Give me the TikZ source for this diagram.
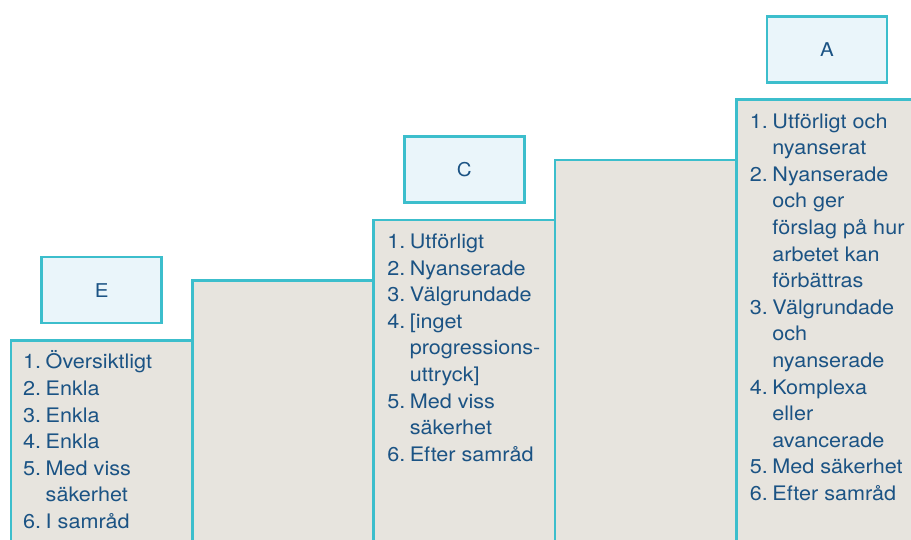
\documentclass[tikz,border=0pt]{standalone}
\usepackage{fontspec}
\setmainfont{TeX Gyre Heros}[FakeStretch=1.08]
\usetikzlibrary{positioning}

\definecolor{stepline}{HTML}{3CBECC}
\definecolor{stepfill}{HTML}{E7E4DE}
\definecolor{gradefill}{HTML}{EAF5FA}
\definecolor{listblue}{HTML}{1B5384}

\tikzset{
  stepcol/.style={draw=stepline, fill=stepfill, line width=2.6pt, anchor=north west,
    minimum width=181.3pt, minimum height=500pt, inner sep=0pt, outer sep=0pt},
  gradebox/.style={draw=stepline, fill=gradefill, line width=2.6pt, text=listblue,
    minimum width=120pt, minimum height=66pt, font=\fontsize{19}{22}\selectfont},
  critlist/.style={anchor=base west, inner sep=0pt, text=listblue,
    font=\fontsize{20}{26.6}\selectfont},
}

\begin{document}
\begin{tikzpicture}[x=1pt, y=1pt]
    \useasboundingbox (0,0) rectangle (911,540);
    \clip (0,0) rectangle (911,540);

    % trappstegen
    \node[stepcol] (colE) at (11,199.5) {};
    \node[stepcol] (colD) at (192.3,259.7) {};
    \node[stepcol] (colC) at (373.6,319.9) {};
    \node[stepcol] (colB) at (554.9,380.1) {};
    \node[stepcol] (colA) at (736.2,440.3) {};

    % betygen
    \node[gradebox, above=16pt of colE] (gradeE) {E};
    \node[gradebox, above=16pt of colC] (gradeC) {C};
    \node[gradebox, above=16pt of colA] (gradeA) {A};

    % uttrycken
    \node[critlist] (listE) at ([xshift=12pt, yshift=-28.5pt]colE.north west) {%
      \begin{tabular}[t]{@{}l@{\hspace{4.5pt}}l@{}}
        1. & Översiktligt\\
        2. & Enkla\\
        3. & Enkla\\
        4. & Enkla\\
        5. & Med viss\\
           & säkerhet\\
        6. & I samråd
      \end{tabular}};
    \node[critlist] (listC) at ([xshift=13.5pt, yshift=-28.5pt]colC.north west) {%
      \begin{tabular}[t]{@{}l@{\hspace{4.5pt}}l@{}}
        1. & Utförligt\\
        2. & Nyanserade\\
        3. & Välgrundade\\
        4. & [inget\\
           & progressions-\\
           & uttryck]\\
        5. & Med viss\\
           & säkerhet\\
        6. & Efter samråd
      \end{tabular}};
    \node[critlist] (listA) at ([xshift=13.5pt, yshift=-28.5pt]colA.north west) {%
      \begin{tabular}[t]{@{}l@{\hspace{4.5pt}}l@{}}
        1. & Utförligt och\\
           & nyanserat\\
        2. & Nyanserade\\
           & och ger\\
           & förslag på hur\\
           & arbetet kan\\
           & förbättras\\
        3. & Välgrundade\\
           & och\\
           & nyanserade\\
        4. & Komplexa\\
           & eller\\
           & avancerade\\
        5. & Med säkerhet\\
        6. & Efter samråd
      \end{tabular}};
\end{tikzpicture}
\end{document}
